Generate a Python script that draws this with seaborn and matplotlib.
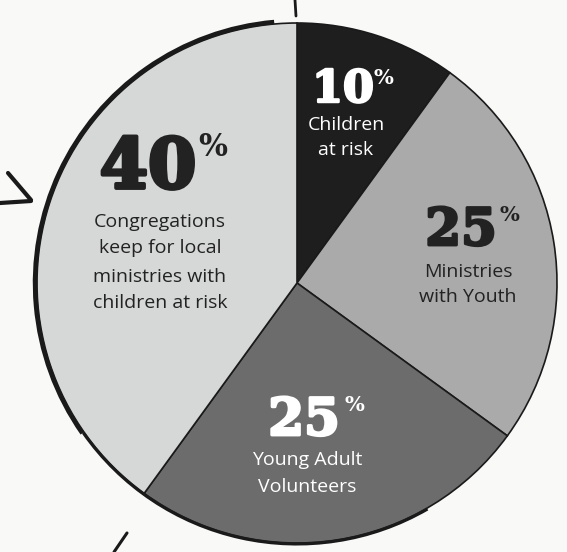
import matplotlib
matplotlib.use("Agg")
import matplotlib.pyplot as plt
import matplotlib.patheffects as pe
from matplotlib.patches import Arc
import seaborn as sns

#chart data (clockwise from 12 o'clock):
shares = [10, 25, 25, 40]
big_labels = ["10", "25", "25", "40"]
captions = [["Children", "at risk"],
            ["Ministries", "with Youth"],
            ["Young Adult", "Volunteers"],
            ["Congregations", "keep for local", "ministries with", "children at risk"]]
slice_colors = ["#1e1e1e", "#a9aaa9", "#6b6c6b", "#d6d8d7"]
text_colors = ["white", "#222222", "white", "#222222"]

sns.set_theme(style="white")
plt.rcParams['font.family'] = ['Open Sans', 'DejaVu Sans']

fig = plt.figure(figsize=(5.67, 5.52), dpi=100)
fig.patch.set_facecolor("#f9f9f8")
ax = fig.add_axes([0, 0, 1, 1])
ax.set_facecolor("#f9f9f8")

cx, cy, r = 297, 269, 260
ax.pie(shares, colors=slice_colors, startangle=90, counterclock=False,
       center=(cx, cy), radius=r, frame=True,
       wedgeprops=dict(edgecolor="#1a1a1a", linewidth=1.2))
ax.set_xlim(0, 567)
ax.set_ylim(0, 552)
ax.set_aspect("equal")
ax.axis("off")

#hand drawn outline on upper left
ax.add_patch(Arc((cx, cy), 2 * r + 4, 2 * r + 4, theta1=95, theta2=215,
                 color="#1a1a1a", lw=3.2))
ax.add_patch(Arc((cx, cy), 2 * r + 2, 2 * r + 2, theta1=215, theta2=300,
                 color="#1a1a1a", lw=2.2))

#label placement (number baseline, % centre, caption line centres)
num_pos = [(343, 450), (461, 307), (304, 117), (148, 364)]
num_size = [32, 37, 37, 50]
pct_pos = [(383, 474), (509, 337), (354, 147), (213, 405)]
pct_size = [15, 15, 15, 22]
cap_x = [346, 468, 307, 160]
cap_y = [[427, 402], [280, 255], [92, 65], [330, 304, 275, 249]]

for i in range(len(shares)):
    fat = [pe.withStroke(linewidth=num_size[i] / 18, foreground=text_colors[i])]
    ax.text(num_pos[i][0], num_pos[i][1], big_labels[i], ha="center", va="baseline",
            fontsize=num_size[i], fontweight="bold", family="DejaVu Serif",
            color=text_colors[i], path_effects=fat)
    ax.text(pct_pos[i][0], pct_pos[i][1], "%", ha="center", va="center",
            fontsize=pct_size[i], fontweight="bold", family="DejaVu Serif",
            color=text_colors[i])
    for line, yy in zip(captions[i], cap_y[i]):
        ax.text(cap_x[i], yy, line, ha="center", va="center", fontsize=14,
                color=text_colors[i])

#pen marks around the circle
ax.plot([295, 296], [552, 536], color="#1a1a1a", lw=2)
ax.plot([127, 114], [19, 0], color="#1a1a1a", lw=2.2)
ax.plot([8, 31], [379, 352], color="#1a1a1a", lw=3)
ax.plot([0, 31], [349, 351], color="#1a1a1a", lw=3)

plt.savefig("out.png", dpi=100, facecolor=fig.get_facecolor())
